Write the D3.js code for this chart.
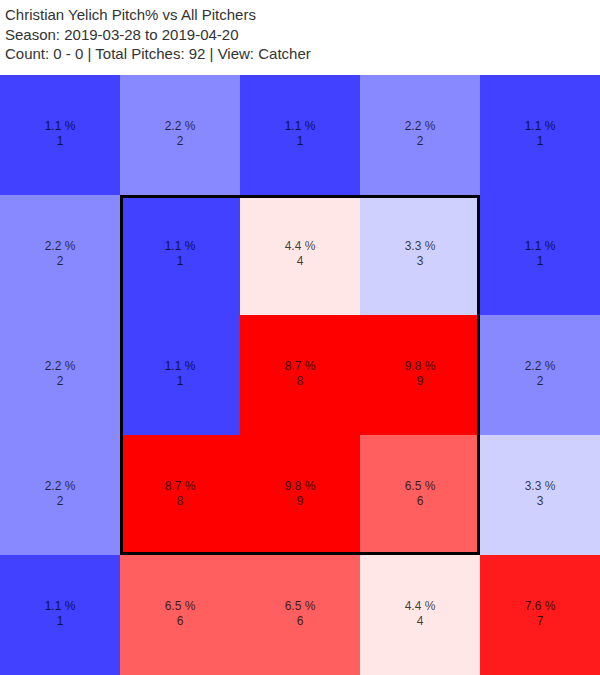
<!DOCTYPE html>
<html>
<head>
<meta charset="utf-8">
<script src="https://cdnjs.cloudflare.com/ajax/libs/d3/7.8.5/d3.min.js"></script>
<style>
  body { margin: 0; background: #fff; }
  text { font-family: "Liberation Sans", Arial, sans-serif; }
</style>
</head>
<body>
<div id="chart"></div>
<script>
var w = 600;
var h = 675;

var titleLines = [
  "Christian Yelich Pitch% vs All Pitchers",
  "Season: 2019-03-28 to 2019-04-20",
  "Count: 0 - 0 | Total Pitches: 92 | View: Catcher"
];

// zone rows top -> bottom, cols left -> right
var rows = [0, 1, 2, 3, 4];
var cols = [0, 1, 2, 3, 4];
var counts = [
  [1, 2, 1, 2, 1],
  [2, 1, 4, 3, 1],
  [2, 1, 8, 9, 2],
  [2, 8, 9, 6, 3],
  [1, 6, 6, 4, 7]
];
var pcts = [
  [1.1, 2.2, 1.1, 2.2, 1.1],
  [2.2, 1.1, 4.4, 3.3, 1.1],
  [2.2, 1.1, 8.7, 9.8, 2.2],
  [2.2, 8.7, 9.8, 6.5, 3.3],
  [1.1, 6.5, 6.5, 4.4, 7.6]
];

var gridTop = 75;

var svg = d3.select("#chart")
  .append("svg")
  .attr("width", w)
  .attr("height", h);

svg.selectAll(".title")
  .data(titleLines)
  .enter()
  .append("text")
  .attr("class", "title")
  .attr("x", 5)
  .attr("y", function (d, i) { return 20 + i * 19.5; })
  .attr("fill", "#333")
  .style("font-size", "15px")
  .text(function (d) { return d; });

var x = d3.scaleBand().domain(cols).range([0, w]);
var y = d3.scaleBand().domain(rows).range([gridTop, h]);

// blue -> white -> red by count
var color = d3.scaleLinear()
  .domain([0.1, 3.65, 7.4])
  .range(["#0000ff", "#ffffff", "#ff0000"])
  .clamp(true);

var cells = [];
rows.forEach(function (r) {
  cols.forEach(function (c) {
    cells.push({ row: r, col: c, count: counts[r][c], pct: pcts[r][c] });
  });
});

var g = svg.selectAll(".cell")
  .data(cells)
  .enter()
  .append("g")
  .attr("class", "cell")
  .attr("transform", function (d) { return "translate(" + x(d.col) + "," + y(d.row) + ")"; });

g.append("rect")
  .attr("width", x.bandwidth())
  .attr("height", y.bandwidth())
  .attr("fill", function (d) { return color(d.count); });

g.append("text")
  .attr("x", x.bandwidth() / 2)
  .attr("y", y.bandwidth() / 2 - 5)
  .attr("text-anchor", "middle")
  .attr("fill", "#000")
  .attr("fill-opacity", 0.75)
  .style("font-size", "12px")
  .text(function (d) { return d.pct.toFixed(1) + " %"; });

g.append("text")
  .attr("x", x.bandwidth() / 2)
  .attr("y", y.bandwidth() / 2 + 10)
  .attr("text-anchor", "middle")
  .attr("fill", "#000")
  .attr("fill-opacity", 0.75)
  .style("font-size", "12px")
  .text(function (d) { return d.count; });

// strike zone = inner 3x3
svg.append("rect")
  .attr("x", x(1) + 1.5)
  .attr("y", y(1) + 1.5)
  .attr("width", x(4) - x(1) - 3)
  .attr("height", y(4) - y(1) - 3)
  .attr("fill", "none")
  .attr("stroke", "#000")
  .attr("stroke-width", 3);
</script>
</body>
</html>
